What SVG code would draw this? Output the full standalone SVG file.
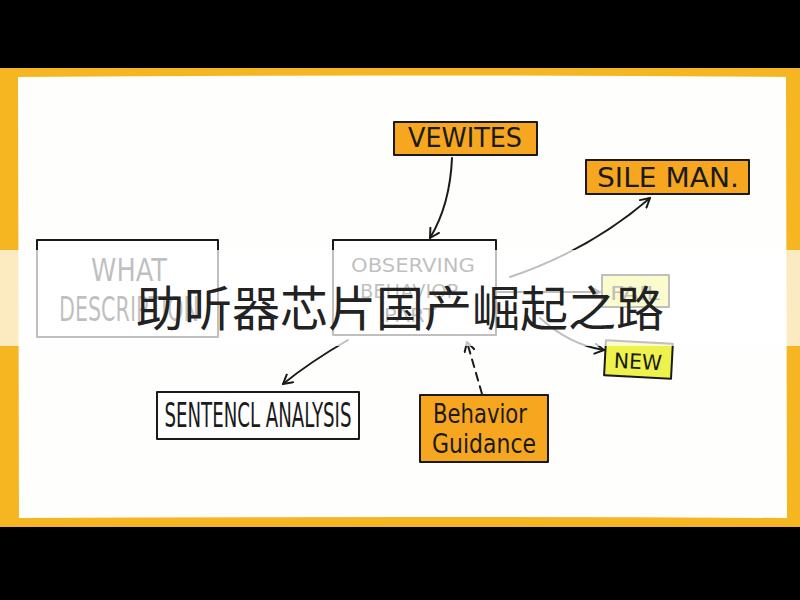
<svg xmlns="http://www.w3.org/2000/svg" width="800" height="600" viewBox="0 0 800 600">
<style>
.box{stroke:#1a1a1a;stroke-width:2;stroke-linejoin:round}
.org{fill:#F6A71F}
.wht{fill:#ffffff}
.ylw{fill:#EEF24C}
.lbl{font-family:"DejaVu Sans","Liberation Sans",sans-serif;fill:#1a1a1a}
.conn{fill:none;stroke:#1a1a1a;stroke-width:2;stroke-linecap:round}
.title{font-family:"Noto Sans CJK SC","Noto Sans",sans-serif;font-size:48px;fill:#222222}
</style>
<defs>
<marker id="arr" viewBox="0 0 12 12" refX="10" refY="6" markerWidth="12" markerHeight="12" markerUnits="userSpaceOnUse" orient="auto">
<path d="M1,1 L10,6 L1,11" fill="none" stroke="#1a1a1a" stroke-width="2" stroke-linecap="round" stroke-linejoin="round"/>
</marker>
</defs>
<rect x="0" y="0" width="800" height="600" fill="#000"/>
<rect x="0" y="68" width="800" height="459" fill="#F5B622"/>
<path d="M18,77 Q400,74 786,77 L787,518 Q400,516 19,518 Z" fill="#FEFEFD"/>

<g id="connectors">
<path class="conn" d="M452,158 Q450,205 430,238" marker-end="url(#arr)"/>
<path class="conn" d="M510,277 Q590,250 650,198" marker-end="url(#arr)"/>
<path class="conn" d="M497,292 L600,292" marker-end="url(#arr)"/>
<path class="conn" d="M540,318 Q570,345 604,350" marker-end="url(#arr)"/>
<path class="conn" d="M348,340 Q310,362 283,384" marker-end="url(#arr)"/>
<path class="conn" d="M482,394 L467,342" stroke-dasharray="8,6" marker-end="url(#arr)"/>
</g>

<g id="vewites">
<rect class="box org" x="394" y="122" width="143" height="33"/>
<text class="lbl" x="465" y="147" font-size="26" text-anchor="middle" textLength="114" lengthAdjust="spacingAndGlyphs">VEWITES</text>
</g>
<g id="sile-man">
<rect class="box org" x="586" y="160" width="163" height="34"/>
<text class="lbl" x="668" y="187" font-size="26" text-anchor="middle" textLength="142" lengthAdjust="spacingAndGlyphs">SILE MAN.</text>
</g>
<g id="observing">
<rect class="box wht" x="333" y="240" width="163" height="95"/>
<text class="lbl" x="413" y="272" font-size="20" text-anchor="middle" textLength="124" lengthAdjust="spacingAndGlyphs">OBSERVING</text>
<text class="lbl" x="410" y="298" font-size="20" text-anchor="middle" textLength="100" lengthAdjust="spacingAndGlyphs">BEHAVIOR</text>
<text class="lbl" x="410" y="322" font-size="20" text-anchor="middle" textLength="52" lengthAdjust="spacingAndGlyphs">PART</text>
</g>
<g id="what-description">
<rect class="box wht" x="37" y="240" width="181" height="97"/>
<text class="lbl" x="129" y="281" font-size="32" text-anchor="middle" textLength="76" lengthAdjust="spacingAndGlyphs">WHAT</text>
<text class="lbl" x="129" y="321" font-size="34" text-anchor="middle" textLength="140" lengthAdjust="spacingAndGlyphs">DESCRIPTION</text>
</g>
<g id="fail">
<rect class="box ylw" x="602" y="275" width="67" height="32"/>
<text class="lbl" x="635" y="300" font-size="20" text-anchor="middle" textLength="50" lengthAdjust="spacingAndGlyphs">FAIL</text>
</g>
<g id="new">
<rect class="box ylw" x="605" y="342" width="67" height="35" transform="rotate(3 638 359)"/>
<text class="lbl" x="638" y="369" font-size="21" text-anchor="middle" textLength="48" lengthAdjust="spacingAndGlyphs" transform="rotate(3 638 359)">NEW</text>
</g>
<g id="sentence-analysis">
<rect class="box wht" x="157" y="392" width="202" height="47"/>
<text class="lbl" x="258" y="427" font-size="33" text-anchor="middle" textLength="187" lengthAdjust="spacingAndGlyphs">SENTENCL ANALYSIS</text>
</g>
<g id="behavior-guidance">
<rect class="box org" x="420" y="395" width="128" height="67"/>
<text class="lbl" x="480" y="423" font-size="26" text-anchor="middle" textLength="94" lengthAdjust="spacingAndGlyphs">Behavior</text>
<text class="lbl" x="484" y="453" font-size="26" text-anchor="middle" textLength="104" lengthAdjust="spacingAndGlyphs">Guidance</text>
</g>

<rect x="0" y="250" width="800" height="96" fill="#ffffff" fill-opacity="0.72"/>
<text class="title" x="400" y="326" text-anchor="middle">助听器芯片国产崛起之路</text>
</svg>
